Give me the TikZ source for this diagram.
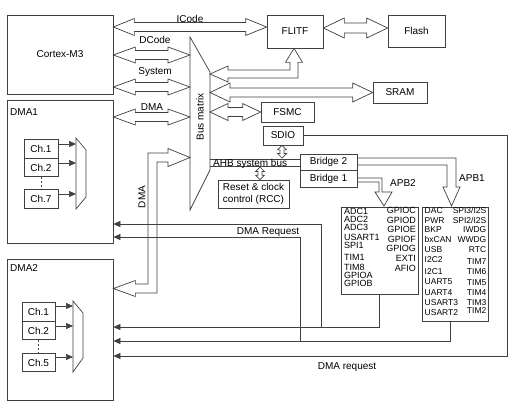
\documentclass[tikz,border=0pt]{standalone}
\usepackage{fontspec}
\setmainfont{Liberation Sans}
\usetikzlibrary{arrows.meta,calc}
\definecolor{lc}{gray}{0.25}
\newcommand{\hbus}[5]{%
\draw[bus] let \p1=#1, \p2=#2 in (\x1,\y1) -- (\x1+#3pt,\y1+#4pt) -- (\x1+#3pt,\y1+#5pt) -- (\x2-#3pt,\y1+#5pt) -- (\x2-#3pt,\y1+#4pt) -- (\x2,\y1) -- (\x2-#3pt,\y1-#4pt) -- (\x2-#3pt,\y1-#5pt) -- (\x1+#3pt,\y1-#5pt) -- (\x1+#3pt,\y1-#4pt) -- cycle;}
\newcommand{\vbus}[5]{%
\draw[bus] let \p1=#1, \p2=#2 in (\x1,\y1) -- (\x1+#4pt,\y1-#3pt) -- (\x1+#5pt,\y1-#3pt) -- (\x1+#5pt,\y2+#3pt) -- (\x1+#4pt,\y2+#3pt) -- (\x1,\y2) -- (\x1-#4pt,\y2+#3pt) -- (\x1-#5pt,\y2+#3pt) -- (\x1-#5pt,\y1-#3pt) -- (\x1-#4pt,\y1-#3pt) -- cycle;}
\begin{document}
\begin{tikzpicture}[x=1pt,y=-1pt,
  box/.style={draw=lc,line width=0.7pt,inner sep=0pt,font=\fontsize{10}{12}\selectfont,align=center},
  bus/.style={draw=lc,line width=0.7pt,line join=miter},
  req/.style={draw=lc,line width=0.7pt,-{Triangle[length=7pt,width=6pt]}},
  charr/.style={draw=lc,line width=0.7pt,-{Triangle[length=7pt,width=6pt]}},
  lbl/.style={font=\fontsize{10}{12}\selectfont,inner sep=0pt},
  perA/.style={font=\fontsize{9}{9}\selectfont,inner sep=0pt,text height=6.5pt,text depth=0pt},
  perB/.style={font=\fontsize{8.5}{9}\selectfont,inner sep=0pt,text height=6pt,text depth=0pt}]
\useasboundingbox (0,0) rectangle (521,407);
\fill[white] (0,0) rectangle (521,407);

% main boxes
\node[box,minimum width=106pt,minimum height=79pt] (cortex) at (60,54.5) {Cortex-M3};
\node[box,minimum width=106pt,minimum height=143pt] (dma1) at (60,171.5) {};
\node[lbl,anchor=west] (dma1lbl) at (10,112) {DMA1};
\node[box,minimum width=106pt,minimum height=141pt] (dma2) at (60,329.5) {};
\node[lbl,anchor=west] (dma2lbl) at (10,268) {DMA2};
\node[box,minimum width=56pt,minimum height=33pt] (flitf) at (295,31.5) {FLITF};
\node[box,minimum width=57pt,minimum height=32pt] (flash) at (416.5,31) {Flash};
\node[box,minimum width=54pt,minimum height=21pt] (sram) at (400,92.5) {SRAM};
\node[box,minimum width=53pt,minimum height=20pt] (fsmc) at (287.5,112) {FSMC};
\node[box,minimum width=40pt,minimum height=19pt] (sdio) at (283,135.5) {SDIO};
\node[box,minimum width=57pt,minimum height=16pt] (bridge2) at (328.5,162) {Bridge 2};
\node[box,minimum width=57pt,minimum height=17pt] (bridge1) at (328.5,178.5) {Bridge 1};
\node[box,minimum width=71pt,minimum height=28pt] (rcc) at (253.5,194) {Reset \& clock\\control (RCC)};
\node[box,minimum width=77pt,minimum height=87pt] (apb2box) at (379.5,250.5) {};
\node[box,minimum width=66pt,minimum height=114pt] (apb1box) at (455,264) {};

% channels DMA1
\node[box,minimum width=34pt,minimum height=18.5pt] (c11) at (41,149) {Ch.1};
\node[box,minimum width=34pt,minimum height=18.5pt] (c12) at (41,167.5) {Ch.2};
\node[box,minimum width=34pt,minimum height=18.5pt] (c17) at (41,199) {Ch.7};
\draw[bus,dash pattern=on 2pt off 2pt] (c12.south) -- (c17.north);
\draw[bus] (76,138) -- (86,150) -- (86,197) -- (76,209) -- cycle;
\draw[charr] (c11.east |- 0,144) -- (76,144);
\draw[charr] (c12.east |- 0,163) -- (76,163);
\draw[charr] (c17.east |- 0,194) -- (76,194);

% channels DMA2
\node[box,minimum width=33pt,minimum height=18.5pt] (c21) at (38.5,312) {Ch.1};
\node[box,minimum width=33pt,minimum height=18.5pt] (c22) at (38.5,330.5) {Ch.2};
\node[box,minimum width=33pt,minimum height=18.5pt] (c25) at (38.5,362.5) {Ch.5};
\draw[bus,dash pattern=on 2pt off 2pt] (c22.south) -- (c25.north);
\draw[bus] (73,301) -- (83,313) -- (83,358) -- (73,372) -- cycle;
\draw[charr] (c21.east |- 0,306) -- (73,306);
\draw[charr] (c22.east |- 0,326) -- (73,326);
\draw[charr] (c25.east |- 0,357) -- (73,357);

% bus matrix
\coordinate (bmL) at (190,0);
\coordinate (bmR) at (210,0);
\draw[bus] (190,37) -- (210,72) -- (210,170) -- (190,210) -- cycle;
\node[lbl,rotate=90] (bmlbl) at (200,117) {Bus matrix};

% buses from cortex / DMA1
\hbus{(cortex.east |- 0,27)}{(flitf.west |- 0,27)}{21}{8.5}{4.5}
\node[lbl] (icode) at (190,18.5) {ICode};
\hbus{(cortex.east |- 0,55)}{(bmL |- 0,55)}{22}{8}{4.5}
\node[lbl] (dcode) at (155,40) {DCode};
\hbus{(cortex.east |- 0,87)}{(bmL |- 0,87)}{22}{8}{4.5}
\node[lbl] (system) at (155,72) {System};
\hbus{(dma1.east |- 0,117)}{(bmL |- 0,117)}{22}{8}{4.5}
\node[lbl] (dmalbl) at (152,107) {DMA};

% FLITF - Flash
\hbus{(flitf.east |- 0,28)}{(flash.west |- 0,28)}{21}{10}{5}

% bus matrix -> FLITF (bent)
\draw[bus] let \p1=(bmR |- 0,74), \p2=(flitf.south -| 294,0) in
  (\x1,\y1) -- (\x1+18pt,\y1+8pt) -- (\x1+18pt,\y1+4pt) -- (\x2-4pt,\y1+4pt) -- (\x2-4pt,\y2-14pt)
  -- (\x2-8.5pt,\y2-14pt) -- (\x2,\y2) -- (\x2+8.5pt,\y2-14pt) -- (\x2+4pt,\y2-14pt)
  -- (\x2+4pt,\y1-4pt) -- (\x1+18pt,\y1-4pt) -- (\x1+18pt,\y1-8pt) -- cycle;

% bus matrix <-> SRAM, FSMC
\hbus{(bmR |- 0,92.5)}{(sram.west |- 0,92.5)}{20}{9.5}{4.5}
\hbus{(bmR |- 0,112)}{(fsmc.west)}{18}{8.5}{4.5}

% DMA bus from bus matrix to DMA2 (bent)
\draw[bus] let \p1=(bmL |- 0,157.5), \p2=(dma2.east |- 0,288.5), \p3=(152.5,0) in
  (\x1,\y1) -- (\x1-22pt,\y1+9pt) -- (\x1-22pt,\y1+4.5pt) -- (\x3-4.5pt,\y1+4.5pt) -- (\x3-4.5pt,\y2+4.5pt)
  -- (\x2+22pt,\y2+4.5pt) -- (\x2+22pt,\y2+8pt) -- (\x2,\y2) -- (\x2+22pt,\y2-8pt) -- (\x2+22pt,\y2-4.5pt)
  -- (\x3+4.5pt,\y2-4.5pt) -- (\x3+4.5pt,\y1-4.5pt) -- (\x1-22pt,\y1-4.5pt) -- (\x1-22pt,\y1-9pt) -- cycle;
\node[lbl,rotate=90] (dmavlbl) at (142,197) {DMA};

% AHB system bus
\draw[bus] (bmR |- 0,159) -- (bridge2.west |- 0,159);
\draw[bus] (bmR |- 0,166) -- (bridge2.west |- 0,166);
\node[lbl,anchor=base west] (ahb) at (213,166) {AHB system bus};
\vbus{(sdio.south -| 282,0)}{(282,158)}{4.5}{4.5}{2}
\vbus{(260,167)}{(rcc.north -| 260,0)}{4.5}{4.5}{2}

% APB1 and APB2
\draw[bus] (bridge2.east |- 0,158) -- (456,158) -- (456,187) -- (460,187) -- (451.5,206) -- (443,187) -- (447,187) -- (447,165) -- (bridge2.east |- 0,165);
\node[lbl,anchor=west] (apb1lbl) at (459,178) {APB1};
\draw[bus] (bridge1.east |- 0,178) -- (382,178) -- (382,192) -- (392,192) -- (384,206) -- (375,192) -- (379,192) -- (379,182) -- (bridge1.east |- 0,182);
\node[lbl,anchor=west] (apb2lbl) at (390,183) {APB2};

% APB2 peripherals
\foreach \t/\y [count=\i] in {ADC1/211,ADC2/219.5,ADC3/227.5,USART1/237.5,SPI1/245.5,TIM1/257,TIM8/267,GPIOA/275.5,GPIOB/283.5}
  \node[perA,anchor=west] (pa\i) at (344,\y) {\t};
\foreach \t/\y [count=\i] in {GPIOC/210.5,GPIOD/220,GPIOE/229.5,GPIOF/239,GPIOG/248,EXTI/258,AFIO/268}
  \node[perA,anchor=east] (pb\i) at (416,\y) {\t};
% APB1 peripherals
\foreach \t/\y [count=\i] in {DAC/210,PWR/220,BKP/229.5,bxCAN/239.5,USB/249.5,I2C2/259.5,I2C1/271,UART5/281.5,UART4/292,USART3/302,USART2/312}
  \node[perB,anchor=west] (pc\i) at (424.5,\y) {\t};
\node[perB,anchor=east] (pd1) at (486.5,210) {SPI3/I2S};
\node[perB,anchor=east] (pd2) at (486.5,220) {SPI2/I2S};
\foreach \t/\y [count=\i from 3] in {IWDG/229.5,WWDG/239.5,RTC/249.5,TIM7/261,TIM6/271,TIM5/282,TIM4/292,TIM3/302,TIM2/310}
  \node[perB,anchor=east] (pd\i) at (486.5,\y) {\t};

% DMA request lines
\coordinate (j1) at (321,327);
\coordinate (j2) at (300,341);
\draw[req] (apb2box.south) -- (apb2box.south |- j1) -- (dma2.east |- j1);
\draw[req] (j1) -- (j1 |- 0,224) -- (dma1.east |- 0,224);
\draw[req] (apb1box.south -| 450,0) -- (450,341) -- (dma2.east |- j2);
\draw[req] (j2) -- (j2 |- 0,237) -- (dma1.east |- 0,237);
\draw[req] (sdio.east) -- (sdio.east -| 507,0) -- (507,356) -- (dma2.east |- 0,356);
\node[lbl] (dmareq1) at (268,232) {DMA Request};
\node[lbl] (dmareq2) at (347,367) {DMA request};
\end{tikzpicture}
\end{document}
